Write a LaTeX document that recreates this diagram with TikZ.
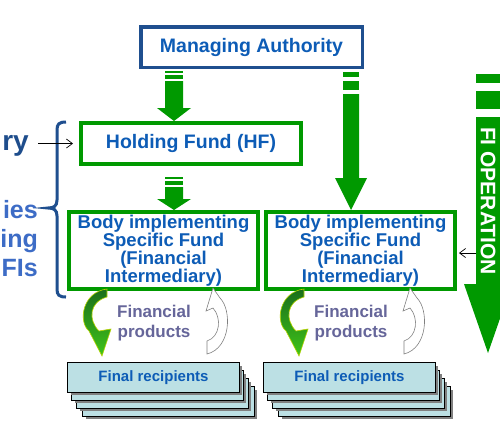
\documentclass[tikz,border=0pt]{standalone}
\usepackage{fontspec}
\setmainfont{Liberation Sans}
\usetikzlibrary{arrows.meta,shadows}
\definecolor{txtblue}{HTML}{0D5CB6}
\definecolor{mablue}{HTML}{1F4F8F}
\definecolor{fgreen}{HTML}{009900}
\definecolor{navy}{HTML}{1E4D8C}
\definecolor{lblue}{HTML}{3D6CC6}
\definecolor{prodgray}{HTML}{66669A}
\definecolor{recfill}{HTML}{BCE0E4}
\definecolor{cdark}{HTML}{1B6E1B}
\definecolor{clight}{HTML}{3FC41A}
\definecolor{cedge}{HTML}{B8D400}
\newcommand{\blkarrow}[6]{\fill[fgreen] (#1-#2,#4) -- (#1+#2,#4) -- (#1+#2,#5) -- (#1+#3,#5) -- (#1,#6) -- (#1-#3,#5) -- (#1-#2,#5) -- cycle;}
\newcommand{\blkbar}[4]{\fill[fgreen] (#1-#2,#3) rectangle (#1+#2,#4);}
\begin{document}
\begin{tikzpicture}[x=1pt,y=-1pt,
  mabox/.style={draw=mablue, line width=3.5pt, fill=white, inner sep=0pt, align=center, text=txtblue,
    font=\bfseries\fontsize{19.5}{20}\selectfont, minimum width=221.5pt, minimum height=40.5pt},
  gbox/.style={draw=fgreen, line width=4pt, fill=white, inner sep=0pt, align=center, text=txtblue,
    font=\bfseries\fontsize{19.5}{20}\selectfont},
  bodybox/.style={gbox, font=\bfseries\fontsize{18.5}{18}\selectfont, minimum width=189pt, minimum height=77pt},
  ptr/.style={draw=black, line width=0.7pt, -{Straight Barb[length=6pt,width=9pt]}},
  sidetxt/.style={anchor=base east, inner sep=0pt, font=\bfseries\fontsize{25}{25}\selectfont, text=lblue},
  prod/.style={align=center, inner sep=0pt, text=prodgray, font=\bfseries\fontsize{17}{20}\selectfont},
  recbox/.style={draw=black, line width=1.2pt, fill=recfill, minimum width=171.8pt, minimum height=29.8pt,
    inner sep=0pt, drop shadow={shadow xshift=3pt, shadow yshift=-3pt, fill=black!50, opacity=1}},
  rectxt/.style={text=txtblue, font=\bfseries\fontsize{15}{16}\selectfont},
  greencurve/.style={top color=cdark, bottom color=clight, draw=cedge, line width=0.6pt},
  graycurve/.style={draw=black!50, fill=white, line width=0.6pt}
]
\useasboundingbox (0,0) rectangle (500,432);
\fill[white] (0,0) rectangle (500,432);
\begin{scope}
\clip (0,0) rectangle (500,432);

% left side texts and brace
\node[anchor=base east, inner sep=0pt, text=navy, font=\bfseries\fontsize{28}{28}\selectfont] (ry) at (29,150) {ry};
\node[sidetxt] (ies) at (38,218) {ies};
\node[sidetxt] (ing) at (38,247) {ing};
\node[sidetxt] (fis) at (38,276) {FIs};
\draw[mablue, line width=3pt] (66,122) .. controls (59,122) and (57,124) .. (57,130) -- (57,200)
  .. controls (57,206) and (54,208) .. (48,208) .. controls (54,208) and (57,210) .. (57,216)
  -- (57,289) .. controls (57,295) and (59,297) .. (66,297);

% boxes
\node[mabox] (MA) at (251.5,47) {Managing Authority};
\node[gbox, minimum width=220pt, minimum height=41pt] (HF) at (191,143.5) {Holding Fund (HF)};
\node[bodybox] (BL) at (163.5,250.5) {Body implementing\\Specific Fund\\(Financial\\Intermediary)};
\node[bodybox] (BR) at (360.5,250.5) {Body implementing\\Specific Fund\\(Financial\\Intermediary)};

% thin arrows
\draw[ptr, shorten <=9pt, shorten >=6pt] (ry.east |- HF.west) -- (HF.west);
\coordinate (fiin) at (500,253);
\draw[ptr, shorten >=2pt] (fiin) -- (BR.east |- fiin);

% block arrows
\blkbar{174}{9}{71}{73}
\blkbar{174}{9}{74.5}{79}
\blkarrow{174}{9}{17}{81}{108}{121}
\blkbar{174}{9}{177}{179}
\blkbar{174}{9}{180.5}{185}
\blkarrow{174}{9}{17}{187}{199}{210}
\blkbar{351}{8}{72}{77}
\blkbar{351}{8}{81}{90}
\blkarrow{351}{8}{16}{94}{178}{210}
\blkbar{488}{12}{74}{83}
\blkbar{488}{12}{91}{109}
\blkarrow{488}{12}{24}{117}{284}{353}
\node[rotate=-90, text=white, inner sep=0pt, font=\bfseries\fontsize{21}{21}\selectfont] (fiop) at (488,201) {FI OPERATION};

% curved arrows and product labels, both columns
\foreach \dx/\nm in {0/L, 197/R} {
  \begin{scope}[xshift=\dx]
    \shadedraw[greencurve] (107,289) .. controls (82,292) and (78,322) .. (89,331) -- (102,356) -- (111,329)
      -- (99,331) .. controls (88,320) and (89,302) .. (107,297) -- cycle;
    \draw[graycurve] (207,354) -- (207,341) .. controls (220,337) and (222,318) .. (213,308) -- (206,311)
      -- (213,288) -- (220,298) .. controls (232,310) and (231,348) .. (207,354) -- cycle;
    \node[prod] (fp\nm) at (154,323) {Financial\\products};
  \end{scope}
}

% final recipients stacks
\foreach \dx/\nm in {0/L, 196/R} {
  \begin{scope}[xshift=\dx]
    \node[recbox] (fr\nm d) at (153.5+15,377.5+24) {};
    \node[recbox] (fr\nm c) at (153.5+9,377.5+16) {};
    \node[recbox] (fr\nm b) at (153.5+4,377.5+8) {};
    \node[recbox] (fr\nm a) at (153.5,377.5) {};
    \node[rectxt] (frt\nm) at (fr\nm a) {Final recipients};
  \end{scope}
}
\end{scope}
\end{tikzpicture}
\end{document}
